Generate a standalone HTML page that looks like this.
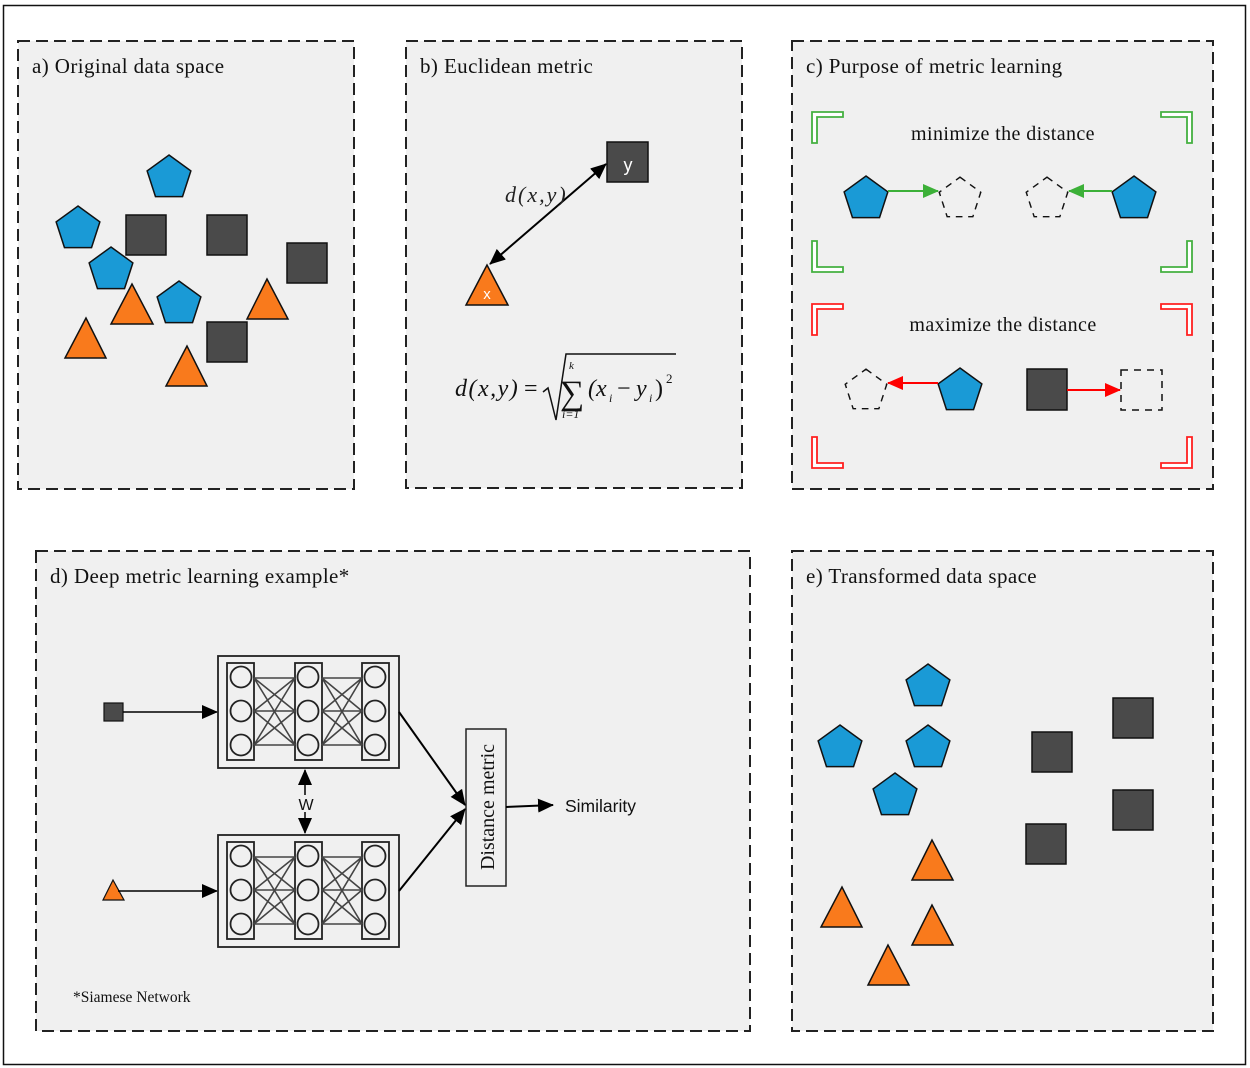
<!DOCTYPE html>
<html><head><meta charset="utf-8"><style>
html,body{margin:0;padding:0;background:#fff;}
svg{display:block;}
.t{font-family:"Liberation Serif",serif;font-size:21px;letter-spacing:0.4px;fill:#111;}
</style></head><body>
<svg width="1250" height="1068" viewBox="0 0 1250 1068" xmlns="http://www.w3.org/2000/svg">
<defs>
<polygon id="pent" points="0,-23 21.87,-7.11 13.52,18.61 -13.52,18.61 -21.87,-7.11"/>
<polygon id="brk" points="0,31 0,0 31,0 31,5 5,5 5,31"/>
<marker id="abL" markerWidth="16" markerHeight="14" refX="15" refY="7" orient="auto-start-reverse" markerUnits="userSpaceOnUse"><path d="M0,0 L16,7 L0,14z" fill="#000"/></marker>
<marker id="ag" markerWidth="16" markerHeight="14" refX="15" refY="7" orient="auto" markerUnits="userSpaceOnUse"><path d="M0,0 L16,7 L0,14z" fill="#3cb038"/></marker>
<marker id="ar" markerWidth="16" markerHeight="14" refX="15" refY="7" orient="auto" markerUnits="userSpaceOnUse"><path d="M0,0 L16,7 L0,14z" fill="#ff0000"/></marker>
</defs>
<rect x="3.5" y="5.5" width="1242" height="1059" fill="#fff" stroke="#111" stroke-width="1.5"/>
<g fill="#f0f0f0" stroke="#222" stroke-width="2" stroke-dasharray="12,6">
<rect x="18" y="41" width="336" height="448"/>
<rect x="406" y="41" width="336" height="447"/>
<rect x="792" y="41" width="421" height="448"/>
<rect x="36" y="551" width="714" height="480"/>
<rect x="792" y="551" width="421" height="480"/>
</g>
<text class="t" x="32" y="73">a) Original data space</text>
<text class="t" x="420" y="73">b) Euclidean metric</text>
<text class="t" x="806" y="73">c) Purpose of metric learning</text>
<text class="t" x="50" y="583">d) Deep metric learning example*</text>
<text class="t" x="806" y="583">e) Transformed data space</text>

<!-- a -->
<g fill="#1a9ad6" stroke="#111" stroke-width="1.5">
<use href="#pent" transform="translate(169,178)"/>
<use href="#pent" transform="translate(78,229)"/>
<use href="#pent" transform="translate(111,270)"/>
<use href="#pent" transform="translate(179,304)"/>
</g>
<g fill="#4a4a4a" stroke="#111" stroke-width="1.5">
<rect x="126" y="215" width="40" height="40"/>
<rect x="207" y="215" width="40" height="40"/>
<rect x="287" y="243" width="40" height="40"/>
<rect x="207" y="322" width="40" height="40"/>
</g>
<g fill="#f97a1c" stroke="#111" stroke-width="1.5">
<polygon points="132,284 111,324 153,324"/>
<polygon points="86,318 65,358 106,358"/>
<polygon points="267,279 247,319 288,319"/>
<polygon points="187,346 166,386 207,386"/>
</g>

<!-- b -->
<rect x="607" y="142" width="41" height="40" fill="#4a4a4a" stroke="#111" stroke-width="1.5"/>
<text x="628" y="171" font-family="Liberation Sans,sans-serif" font-size="18" fill="#fff" text-anchor="middle">y</text>
<polygon points="487,265 466,305 508,305" fill="#f97a1c" stroke="#111" stroke-width="1.5"/>
<text x="487" y="299" font-family="Liberation Sans,sans-serif" font-size="15" fill="#fff" text-anchor="middle">x</text>
<line x1="490" y1="264" x2="606" y2="164" stroke="#000" stroke-width="2" marker-end="url(#abL)" marker-start="url(#abL)"/>
<text x="505" y="202" font-family="Liberation Serif,serif" font-style="italic" font-size="22" letter-spacing="2" fill="#222">d(x,y)</text>
<g font-family="Liberation Serif,serif" font-size="24" fill="#111">
<text x="455" y="396" font-style="italic" letter-spacing="1.5">d(x,y)</text>
<text x="524" y="396">=</text>
<polyline points="543,392 548,388 556,420 566,354 676,354" fill="none" stroke="#111" stroke-width="1.5"/>
<text x="560" y="404" font-size="34">∑</text>
<text x="569" y="369" font-size="11" font-style="italic">k</text>
<text x="562" y="418" font-size="12" font-style="italic">i=1</text>
<text x="588" y="396" font-style="italic">(x</text>
<text x="609" y="402" font-size="12" font-style="italic">i</text>
<text x="617" y="396">−</text>
<text x="636" y="396" font-style="italic">y</text>
<text x="649" y="402" font-size="12" font-style="italic">i</text>
<text x="655" y="396">)</text>
<text x="666" y="383" font-size="13">2</text>
</g>

<!-- c brackets -->
<g fill="#fff" stroke="#44b040" stroke-width="1.8">
<use href="#brk" transform="translate(812,112)"/>
<use href="#brk" transform="translate(1192,112) scale(-1,1)"/>
<use href="#brk" transform="translate(812,272) scale(1,-1)"/>
<use href="#brk" transform="translate(1192,272) scale(-1,-1)"/>
</g>
<g fill="#fff" stroke="#ff2020" stroke-width="1.8">
<use href="#brk" transform="translate(812,304)"/>
<use href="#brk" transform="translate(1192,304) scale(-1,1)"/>
<use href="#brk" transform="translate(812,468) scale(1,-1)"/>
<use href="#brk" transform="translate(1192,468) scale(-1,-1)"/>
</g>
<text x="1003" y="140" font-family="Liberation Serif,serif" font-size="20" letter-spacing="0.4" fill="#111" text-anchor="middle">minimize the distance</text>
<text x="1003" y="331" font-family="Liberation Serif,serif" font-size="20" letter-spacing="0.4" fill="#111" text-anchor="middle">maximize the distance</text>
<g fill="#1a9ad6" stroke="#111" stroke-width="1.5">
<use href="#pent" transform="translate(866,199)"/>
<use href="#pent" transform="translate(1134,199)"/>
<use href="#pent" transform="translate(960,391)"/>
</g>
<g fill="none" stroke="#111" stroke-width="1.5" stroke-dasharray="7,6">
<use href="#pent" transform="translate(960,199) scale(0.95)"/>
<use href="#pent" transform="translate(1047,199) scale(0.95)"/>
<use href="#pent" transform="translate(866,391) scale(0.95)"/>
<rect x="1121" y="370" width="41" height="40"/>
</g>
<line x1="888" y1="191" x2="938" y2="191" stroke="#3cb038" stroke-width="2" marker-end="url(#ag)"/>
<line x1="1112" y1="191" x2="1069" y2="191" stroke="#3cb038" stroke-width="2" marker-end="url(#ag)"/>
<line x1="938" y1="383" x2="888" y2="383" stroke="#ff0000" stroke-width="2" marker-end="url(#ar)"/>
<rect x="1027" y="369" width="40" height="41" fill="#4a4a4a" stroke="#111" stroke-width="1.5"/>
<line x1="1067" y1="390" x2="1120" y2="390" stroke="#ff0000" stroke-width="2" marker-end="url(#ar)"/>

<!-- d -->
<rect x="104" y="703" width="19" height="18" fill="#4a4a4a" stroke="#111" stroke-width="1.2"/>
<line x1="123" y1="712" x2="217" y2="712" stroke="#000" stroke-width="1.5" marker-end="url(#abL)"/>
<polygon points="113,880 103,900 124,900" fill="#f97a1c" stroke="#111" stroke-width="1.2"/>
<line x1="118" y1="891" x2="217" y2="891" stroke="#000" stroke-width="1.5" marker-end="url(#abL)"/>

<g id="net" fill="none" stroke="#222" stroke-width="1.8">
<rect x="218" y="656" width="181" height="112" fill="#f0f0f0"/>
<rect x="227" y="663" width="27" height="97"/>
<rect x="295" y="663" width="27" height="97"/>
<rect x="362" y="663" width="27" height="97"/>
<g stroke="#444" stroke-width="1.6">
<path d="M254,678 L295,678 M254,678 L295,711 M254,678 L295,745 M254,711 L295,678 M254,711 L295,711 M254,711 L295,745 M254,745 L295,678 M254,745 L295,711 M254,745 L295,745"/>
<path d="M322,678 L362,678 M322,678 L362,711 M322,678 L362,745 M322,711 L362,678 M322,711 L362,711 M322,711 L362,745 M322,745 L362,678 M322,745 L362,711 M322,745 L362,745"/>
</g>
<g fill="#f0f0f0">
<circle cx="241" cy="677" r="10.5"/><circle cx="241" cy="711" r="10.5"/><circle cx="241" cy="745" r="10.5"/>
<circle cx="308" cy="677" r="10.5"/><circle cx="308" cy="711" r="10.5"/><circle cx="308" cy="745" r="10.5"/>
<circle cx="375" cy="677" r="10.5"/><circle cx="375" cy="711" r="10.5"/><circle cx="375" cy="745" r="10.5"/>
</g>
</g>
<use href="#net" transform="translate(0,179)"/>

<line x1="305" y1="795" x2="305" y2="770" stroke="#000" stroke-width="1.5" marker-end="url(#abL)"/>
<line x1="305" y1="812" x2="305" y2="833" stroke="#000" stroke-width="1.5" marker-end="url(#abL)"/>
<text x="306" y="810" font-family="Liberation Sans,sans-serif" font-size="16" fill="#111" text-anchor="middle">W</text>

<rect x="466" y="729" width="40" height="157" fill="#f0f0f0" stroke="#222" stroke-width="1.5"/>
<text transform="translate(494,807) rotate(-90)" font-family="Liberation Serif,serif" font-size="20" fill="#111" text-anchor="middle">Distance metric</text>
<line x1="399" y1="712" x2="465" y2="805" stroke="#000" stroke-width="2" marker-end="url(#abL)"/>
<line x1="399" y1="891" x2="465" y2="809" stroke="#000" stroke-width="2" marker-end="url(#abL)"/>
<line x1="506" y1="807" x2="553" y2="805" stroke="#000" stroke-width="2" marker-end="url(#abL)"/>
<text x="565" y="812" font-family="Liberation Sans,sans-serif" font-size="17.5" fill="#111">Similarity</text>
<text x="73" y="1002" font-family="Liberation Serif,serif" font-size="15.5" fill="#111">*Siamese Network</text>

<!-- e -->
<g fill="#1a9ad6" stroke="#111" stroke-width="1.5">
<use href="#pent" transform="translate(928,687)"/>
<use href="#pent" transform="translate(840,748)"/>
<use href="#pent" transform="translate(928,748)"/>
<use href="#pent" transform="translate(895,796)"/>
</g>
<g fill="#4a4a4a" stroke="#111" stroke-width="1.5">
<rect x="1113" y="698" width="40" height="40"/>
<rect x="1032" y="732" width="40" height="40"/>
<rect x="1113" y="790" width="40" height="40"/>
<rect x="1026" y="824" width="40" height="40"/>
</g>
<g fill="#f97a1c" stroke="#111" stroke-width="1.5">
<polygon points="932,840 912,880 953,880"/>
<polygon points="842,887 821,927 862,927"/>
<polygon points="932,905 912,945 953,945"/>
<polygon points="888,945 868,985 909,985"/>
</g>
</svg>
</body></html>
